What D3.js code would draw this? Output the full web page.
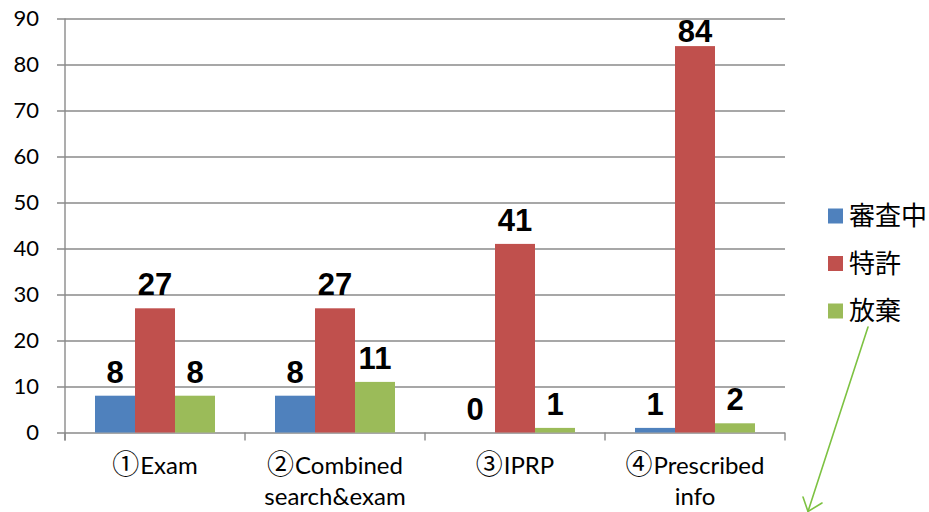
<!DOCTYPE html>
<html>
<head>
<meta charset="utf-8">
<script src="https://cdn.jsdelivr.net/npm/d3@7"></script>
<style>
  html, body { margin: 0; padding: 0; background: #fff; }
  svg { display: block; }
</style>
</head>
<body>
<div id="chart"></div>
<script>
// Categories (x axis): circled number, then one text line per array entry
const categoryMarks = ["①", "②", "③", "④"];
const categories = [
  ["Exam"],
  ["Combined", "search&exam"],
  ["IPRP"],
  ["Prescribed", "info"]
];
const seriesNames = ["審査中", "特許", "放棄"];
const pending   = [8, 8, 0, 1];    // 審査中
const granted   = [27, 27, 41, 84]; // 特許
const abandoned = [8, 11, 1, 2];   // 放棄
const yTicks = [0, 10, 20, 30, 40, 50, 60, 70, 80, 90];

const seriesValues = [pending, granted, abandoned];
const colors = ["#4F81BD", "#C0504D", "#9BBB59"];

const W = 929, H = 512;
const plot = { left: 65, right: 785, top: 18.5, bottom: 432.5 };

const svg = d3.select("#chart").append("svg")
  .attr("width", W).attr("height", H);

const catIdx = d3.range(categories.length);
const x0 = d3.scaleBand().domain(catIdx).range([plot.left, plot.right]).padding(0);
const x1 = d3.scaleBand().domain(d3.range(seriesNames.length))
  .range([0, x0.bandwidth()]).paddingInner(0).paddingOuter(0.75);
const y = d3.scaleLinear().domain([0, 90]).range([plot.bottom, plot.top]);

const gridColor = "#8a8a8a";

// Horizontal gridlines with left tick labels
const yAxis = d3.axisLeft(y).tickValues(yTicks)
  .tickSize(-(plot.right - plot.left)).tickSizeOuter(0).tickPadding(26);
const gy = svg.append("g").attr("transform", `translate(${plot.left},0)`).call(yAxis);
gy.select(".domain").remove();
gy.selectAll(".tick line")
  .attr("x1", -8)
  .attr("stroke", gridColor).attr("stroke-width", 1.4);
gy.selectAll(".tick text")
  .attr("fill", "#000")
  .style("font-family", "Lato, 'Liberation Sans', sans-serif")
  .style("font-size", "22px");

// Vertical axis line
svg.append("line")
  .attr("x1", plot.left).attr("x2", plot.left)
  .attr("y1", plot.top).attr("y2", plot.bottom + 8)
  .attr("stroke", gridColor).attr("stroke-width", 1.4);

// Category boundary ticks below the baseline
const boundaries = catIdx.map(i => x0(i)).concat([plot.right]);
svg.append("g").selectAll("line").data(boundaries).join("line")
  .attr("x1", d => d).attr("x2", d => d)
  .attr("y1", plot.bottom).attr("y2", plot.bottom + 8)
  .attr("stroke", gridColor).attr("stroke-width", 1.4);

// Bars
const groups = svg.append("g").selectAll("g").data(catIdx).join("g")
  .attr("transform", i => `translate(${x0(i)},0)`);

groups.selectAll("rect")
  .data(i => seriesValues.map((vals, s) => ({ s, v: vals[i] })))
  .join("rect")
  .attr("x", d => x1(d.s))
  .attr("width", x1.bandwidth())
  .attr("y", d => y(d.v))
  .attr("height", d => y(0) - y(d.v))
  .attr("fill", d => colors[d.s]);

// Value labels above the bars, kept inside the plot area
const labelSize = 31;
groups.selectAll("text.value")
  .data(i => seriesValues.map((vals, s) => ({ s, v: vals[i] })))
  .join("text")
  .attr("class", "value")
  .attr("x", d => x1(d.s) + x1.bandwidth() / 2)
  .attr("y", d => Math.max(y(d.v) - 13, plot.top + 23))
  .attr("text-anchor", "middle")
  .style("font-family", "'Liberation Sans', Arial, sans-serif")
  .style("font-weight", "bold")
  .style("font-size", labelSize + "px")
  .attr("fill", "#000")
  .text(d => d.v);

// Category labels: circled number + first line, then any further lines
const catLabels = svg.append("g").selectAll("text").data(catIdx).join("text")
  .attr("x", i => x0(i) + x0.bandwidth() / 2)
  .attr("y", 473.5)
  .attr("text-anchor", "middle")
  .style("font-family", "Lato, sans-serif")
  .style("font-size", "24px")
  .attr("fill", "#000");
catLabels.each(function(i) {
  const t = d3.select(this);
  const cx = x0(i) + x0.bandwidth() / 2;
  t.append("tspan")
    .attr("x", cx)
    .style("font-family", "'Noto Sans CJK JP', sans-serif")
    .style("font-size", "27px")
    .text(categoryMarks[i]);
  t.append("tspan").attr("dx", 1).text(categories[i][0]);
  categories[i].slice(1).forEach(line => {
    t.append("tspan").attr("x", cx).attr("dy", 31).text(line);
  });
});

// Legend
const legend = svg.append("g").attr("transform", "translate(828,216)");
const items = legend.selectAll("g").data(seriesNames).join("g")
  .attr("transform", (d, i) => `translate(0,${i * 47.5})`);
items.append("rect")
  .attr("x", 0).attr("y", -7.5).attr("width", 15).attr("height", 15)
  .attr("fill", (d, i) => colors[i]);
items.append("text")
  .attr("x", 21).attr("y", 0).attr("dy", "0.36em")
  .style("font-family", "'Noto Sans CJK JP', sans-serif")
  .style("font-size", "26px")
  .attr("fill", "#000")
  .text(d => d);

// Green annotation arrow pointing down from the legend
const arrowColor = "#7DC242";
const arrow = svg.append("g")
  .attr("stroke", arrowColor).attr("stroke-width", 1.6).attr("fill", "none")
  .attr("stroke-linecap", "round");
arrow.append("line").attr("x1", 868).attr("y1", 327).attr("x2", 808).attr("y2", 511.5);
arrow.append("path").attr("d", "M803,497 L808,511.5 L822,503");
</script>
</body>
</html>
